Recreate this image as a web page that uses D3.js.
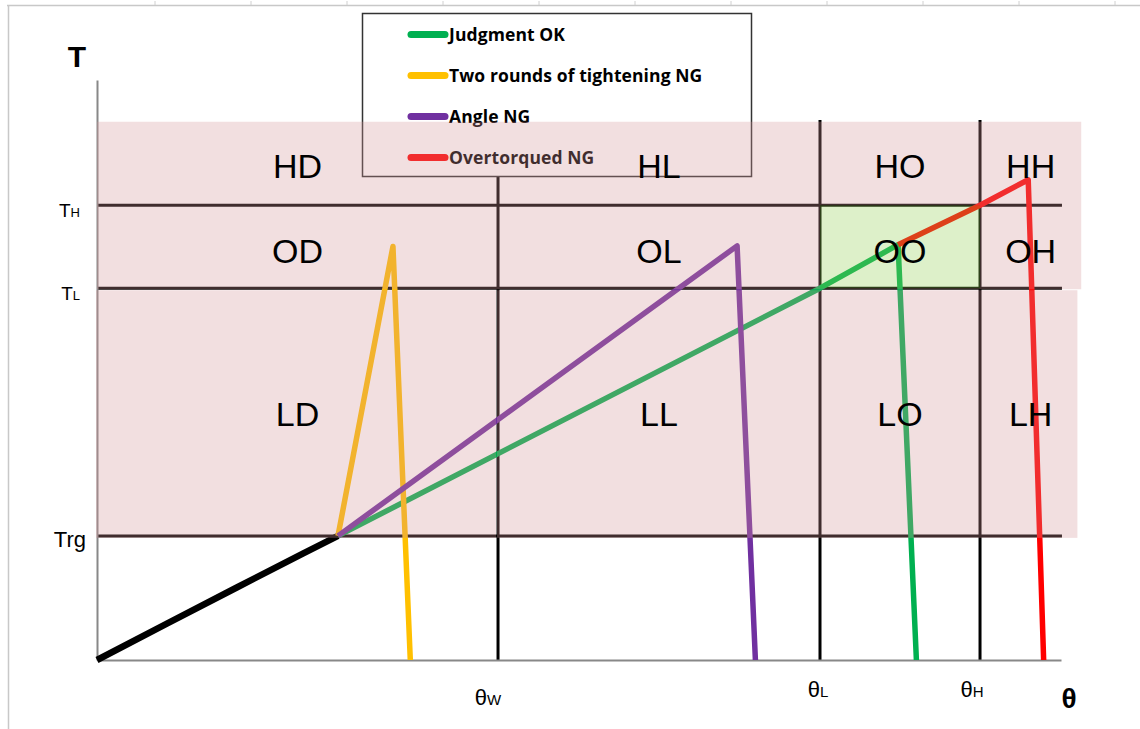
<!DOCTYPE html>
<html><head><meta charset="utf-8">
<script src="https://cdn.jsdelivr.net/npm/d3@7"></script>
<style>body{margin:0;background:#fff}svg{display:block}</style>
</head><body><svg id="c" width="1140" height="729"></svg>
<script>
// ---- data (arbitrary angle / torque units) ----
const thetaMarks = [{name:"θ", sub:"W", value:41.6},{name:"θ", sub:"L", value:75.0},{name:"θ", sub:"H", value:91.6}];
const torqueMarks = [{name:"T", sub:"H", value:78.4},{name:"T", sub:"L", value:64.1},{name:"Trg", sub:"", value:21.4}];
const zoneTop = 92.8;
const zoneRight = 102.1;
const blackSeries  = [[0,0],[7.3,6.3],[14.5,12.5],[21.4,18.4],[25,21.4]];
const greenSeries  = [[25,21.4],[75,64.1],[83.1,71.6],[85.0,0]];
const yellowSeries = [[25,21.4],[30.7,71.3],[32.5,0]];
const purpleSeries = [[25,21.4],[66.4,71.4],[68.3,0]];
const redSeries    = [[83.1,71.6],[91.6,78.4],[96.6,82.8],[98.2,0]];
const legendLabels = ["Judgment OK","Two rounds of tightening NG","Angle NG","Overtorqued NG"];
const legendColors = ["#00b050","#ffc000","#7030a0","#ff0000"];
const rowCodes = ["H","O","L"];
const colCodes = ["D","L","O","H"];

// ---- scales ----
const svg = d3.select("#c");
const x = d3.scaleLinear().domain([0,100]).range([97,1061]);
const y = d3.scaleLinear().domain([0,100]).range([660,80]);

// spreadsheet frame
svg.append("line").attr("x1",7).attr("x2",1140).attr("y1",5.5).attr("y2",5.5).attr("stroke","#c8c8c8").attr("stroke-width",1.5);
svg.append("line").attr("x1",8.5).attr("x2",8.5).attr("y1",5).attr("y2",729).attr("stroke","#c8c8c8").attr("stroke-width",1.5);
svg.selectAll("line.sh").data(d3.range(11)).enter().append("line")
  .attr("x1",d=>155+96*d).attr("x2",d=>155+96*d).attr("y1",1).attr("y2",5).attr("stroke","#d0d0d0");

const tH = torqueMarks[0].value, tL = torqueMarks[1].value, tRg = torqueMarks[2].value;
const colB = [0, ...thetaMarks.map(d=>d.value), zoneRight];
const rowB = [zoneTop, tH, tL, tRg];

// grid lines
const g = svg.append("g");
torqueMarks.forEach(m=>{
  g.append("line").attr("x1",x(0)).attr("x2",x(100.1)).attr("y1",y(m.value)).attr("y2",y(m.value))
   .attr("stroke","#000").attr("stroke-width",3);
});
thetaMarks.forEach(m=>{
  g.append("line").attr("x1",x(m.value)).attr("x2",x(m.value)).attr("y1",y(93.1)).attr("y2",y(0))
   .attr("stroke","#000").attr("stroke-width",3);
});

// axes
const ax = svg.append("g").attr("transform",`translate(0,${y(0)})`).call(d3.axisBottom(x).tickValues([]).tickSizeOuter(0));
ax.select(".domain").attr("stroke","#888").attr("stroke-width",2);
const ay = svg.append("g").attr("transform",`translate(${x(0)},0)`).call(d3.axisLeft(y).tickValues([]).tickSizeOuter(0));
ay.select(".domain").attr("stroke","#888").attr("stroke-width",2);

// series
const line = d3.line().x(d=>x(d[0])).y(d=>y(d[1]));
function draw(data,color,w){
  svg.append("path").datum(data).attr("d",line).attr("fill","none").attr("stroke",color)
    .attr("stroke-width",w).attr("stroke-linejoin","round").attr("stroke-linecap","butt");
}
draw(blackSeries,"#000",6.5);
draw(greenSeries,legendColors[0],5.5);
draw(yellowSeries,legendColors[1],5.5);
draw(purpleSeries,legendColors[2],5.5);
draw(redSeries,legendColors[3],5.5);

// legend
const lg = svg.append("g");
lg.append("rect").attr("x",362.5).attr("y",13.5).attr("width",389).attr("height",163).attr("fill","#fff").attr("stroke","#333").attr("stroke-width",1.5);
legendLabels.forEach((t,i)=>{
  const yy = 34.5 + i*41;
  lg.append("line").attr("x1",411).attr("x2",445).attr("y1",yy).attr("y2",yy).attr("stroke",legendColors[i]).attr("stroke-width",7).attr("stroke-linecap","round");
  lg.append("text").attr("x",449).attr("y",yy+6.5).text(t)
    .attr("font-family","Open Sans").attr("font-weight","bold").attr("font-size",17.5).attr("fill","#000").attr("letter-spacing",0.1);
});

// pink overlay (excluding OO cell)
const pink = "rgb(212,150,153)";
const ov = svg.append("g").attr("fill",pink).attr("fill-opacity",0.3);
const ooX0 = x(thetaMarks[1].value), ooX1 = x(thetaMarks[2].value), ooY0 = y(tH), ooY1 = y(tL);
const up = d3.path();
up.rect(x(0), y(zoneTop), x(zoneRight)-x(0), y(tL)+1-y(zoneTop));
up.moveTo(ooX0,ooY0); up.lineTo(ooX0,ooY1); up.lineTo(ooX1,ooY1); up.lineTo(ooX1,ooY0); up.closePath();
ov.append("path").attr("d",up.toString()).attr("fill-rule","evenodd");
ov.append("rect").attr("x",x(0)-1).attr("y",y(tL)+2).attr("width",x(thetaMarks[0].value)-2-(x(0)-1)).attr("height",y(tRg)+2-(y(tL)+2));
ov.append("rect").attr("x",x(thetaMarks[0].value)-1).attr("y",y(tL)+2).attr("width",x(101.7)-(x(thetaMarks[0].value)-1)).attr("height",y(tRg)+2-(y(tL)+2));
// green OO cell
svg.append("rect").attr("x",ooX0).attr("y",ooY0).attr("width",ooX1-ooX0).attr("height",ooY1-ooY0)
  .attr("fill","#92d050").attr("fill-opacity",0.31);

// region labels
rowCodes.forEach((r,i)=>{
  colCodes.forEach((c,j)=>{
    const cx = (x(colB[j])+x(colB[j+1]))/2;
    const cy = (y(rowB[i])+y(rowB[i+1]))/2;
    svg.append("text").attr("x",cx).attr("y",cy+14+(i===1?2:0)).attr("text-anchor","middle")
      .attr("font-family","Liberation Sans, Arial").attr("font-size",34).attr("fill","#000").text(r+c);
  });
});

// axis titles
svg.append("text").attr("x",77).attr("y",67).attr("text-anchor","middle").attr("font-family","Liberation Sans, Arial")
  .attr("font-weight","bold").attr("font-size",30).text("T");
svg.append("text").attr("x",1069).attr("y",708).attr("text-anchor","middle").attr("font-family","Liberation Sans, Arial")
  .attr("font-weight","bold").attr("font-size",28).text("θ");

// torque tick labels
torqueMarks.forEach((m,i)=>{
  const t = svg.append("text").attr("x", m.sub? 80 : 86).attr("y", y(m.value)+ (i===2?11:12)).attr("text-anchor","end")
    .attr("font-family","Liberation Sans, Arial").attr("font-size", m.sub?19:22).attr("fill","#000");
  t.append("tspan").text(m.name);
  if(m.sub) t.append("tspan").attr("font-size",13).text(m.sub);
});
// theta tick labels
const thNudge = [-10,-2,-8];
const thDy = [45, 37, 37];
thetaMarks.forEach((m,i)=>{
  const t = svg.append("text").attr("x", x(m.value)+thNudge[i]).attr("y", y(0)+thDy[i]).attr("text-anchor","middle")
    .attr("font-family","Liberation Sans, Arial").attr("font-size",22).attr("fill","#000");
  t.append("tspan").text(m.name);
  t.append("tspan").attr("font-size",15).text(m.sub);
});
</script>
</body></html>
